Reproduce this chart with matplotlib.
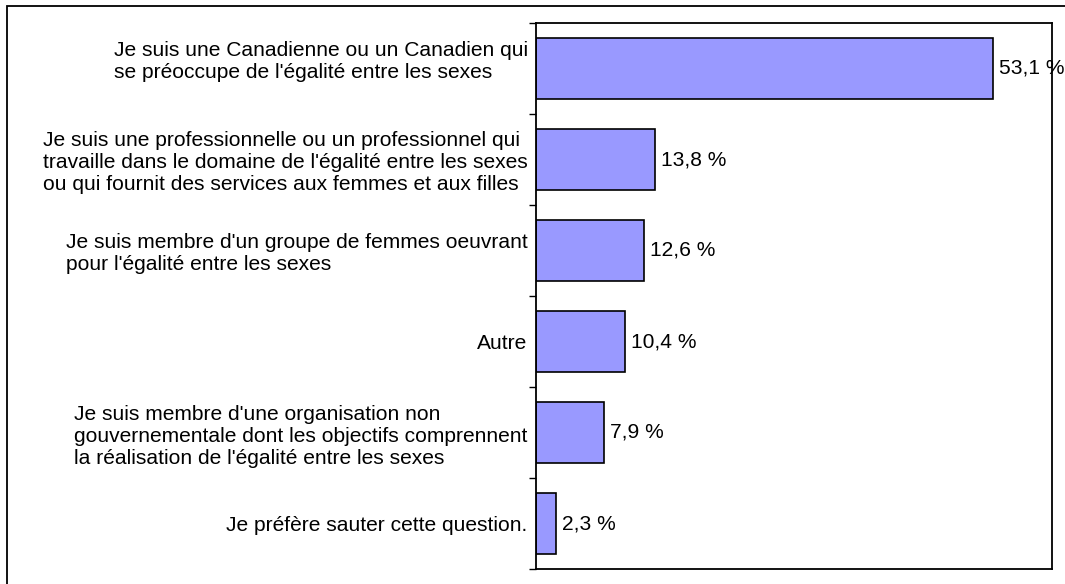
import numpy as np
import matplotlib
matplotlib.use('Agg')
import matplotlib.pyplot as plt
from matplotlib.patches import Rectangle

plt.rcParams['font.family'] = ['Liberation Sans', 'DejaVu Sans']

# data (top to bottom)
categories = [
    "Je suis une Canadienne ou un Canadien qui\nse préoccupe de l'égalité entre les sexes\n ",
    "Je suis une professionnelle ou un professionnel qui\ntravaille dans le domaine de l'égalité entre les sexes\nou qui fournit des services aux femmes et aux filles",
    "Je suis membre d'un groupe de femmes oeuvrant\npour l'égalité entre les sexes",
    "Autre",
    "Je suis membre d'une organisation non\ngouvernementale dont les objectifs comprennent\nla réalisation de l'égalité entre les sexes",
    "Je préfère sauter cette question.",
]
values = [53.1, 13.8, 12.6, 10.4, 7.9, 2.3]

W, H = 1065, 584
fs = 15.1
fig = plt.figure(figsize=(W / 100, H / 100), dpi=100)
ax = fig.add_axes([536 / W, 1 - 569 / H, (1052 - 536) / W, (569 - 23) / H])

y = np.arange(len(values))
ax.barh(y, values, height=0.66, color='#9999FF', edgecolor='black', linewidth=1.2)

for yi, v in zip(y, values):
    ax.text(v + 0.7, yi, ('%.1f %%' % v).replace('.', ','), va='center', ha='left',
            fontsize=fs, clip_on=False)

ax.set_xlim(0, 60)
ax.set_ylim(len(values) - 0.5, -0.5)
ax.set_xticks([])
ax.set_yticks(y)
ax.set_yticklabels(categories, fontsize=fs, multialignment='left')
ax.tick_params(axis='y', which='major', length=0, pad=6)
ax.set_yticks(np.arange(-0.5, len(values)), minor=True)
ax.tick_params(axis='y', which='minor', length=5, width=1, direction='out')
for s in ax.spines.values():
    s.set_linewidth(1.3)

# outer frame
fig.patches.append(Rectangle((7 / W, -0.05), 1.1, 1 - 6 / H + 0.05, transform=fig.transFigure,
                             fill=False, edgecolor='black', linewidth=1.3))

fig.savefig('out.png', dpi=100)
